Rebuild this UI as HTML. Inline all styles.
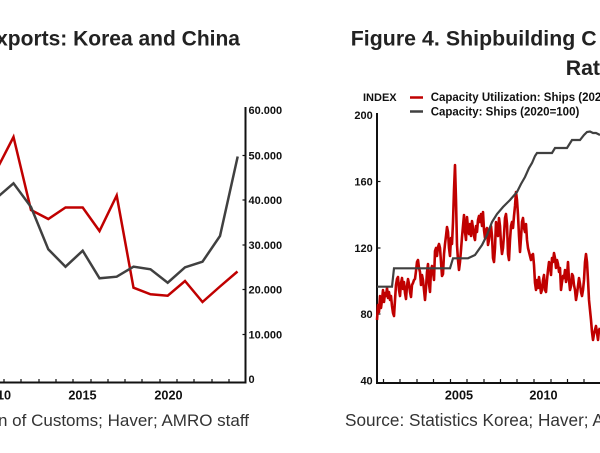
<!DOCTYPE html>
<html><head><meta charset="utf-8"><style>
html,body{margin:0;padding:0;background:#fff;}
svg{display:block;}
text{font-family:"Liberation Sans",Arial,sans-serif;}
</style></head><body>
<svg width="600" height="453" viewBox="0 0 600 453" xmlns="http://www.w3.org/2000/svg">
<rect width="600" height="453" fill="#fff"/>
<!-- Titles -->
<text x="240" y="45.5" font-size="21" font-weight="bold" fill="#222" text-anchor="end">Exports: Korea and China</text>
<text x="350.7" y="45.5" font-size="21.3" font-weight="bold" fill="#222" textLength="246" lengthAdjust="spacing">Figure 4. Shipbuilding C</text>
<text x="565.7" y="75" font-size="21.3" font-weight="bold" fill="#222">Rat</text>

<!-- LEFT CHART -->
<g stroke="#111" stroke-width="2" fill="none">
<line x1="245.5" y1="107" x2="245.5" y2="383.5"/>
<line x1="0" y1="382.5" x2="246.5" y2="382.5"/>
</g>
<g stroke="#111" stroke-width="1.2">
<line x1="4" y1="379" x2="4" y2="382"/><line x1="21" y1="379" x2="21" y2="382"/><line x1="39" y1="379" x2="39" y2="382"/><line x1="56" y1="379" x2="56" y2="382"/><line x1="73" y1="379" x2="73" y2="382"/><line x1="91" y1="379" x2="91" y2="382"/><line x1="108" y1="379" x2="108" y2="382"/><line x1="125" y1="379" x2="125" y2="382"/><line x1="142" y1="379" x2="142" y2="382"/><line x1="160" y1="379" x2="160" y2="382"/><line x1="177" y1="379" x2="177" y2="382"/><line x1="194" y1="379" x2="194" y2="382"/><line x1="212" y1="379" x2="212" y2="382"/><line x1="229" y1="379" x2="229" y2="382"/>
<line x1="242.5" y1="155.5" x2="245" y2="155.5"/><line x1="242.5" y1="200" x2="245" y2="200"/><line x1="242.5" y1="245" x2="245" y2="245"/><line x1="242.5" y1="289.5" x2="245" y2="289.5"/><line x1="242.5" y1="334.5" x2="245" y2="334.5"/>
</g>
<g font-size="11" font-weight="bold" fill="#111">
<text x="248.5" y="114">60.000</text>
<text x="248.5" y="159.5">50.000</text>
<text x="248.5" y="204">40.000</text>
<text x="248.5" y="249">30.000</text>
<text x="248.5" y="293.5">20.000</text>
<text x="248.5" y="338.5">10.000</text>
<text x="248.5" y="383">0</text>
</g>
<g font-size="12.7" font-weight="bold" fill="#111" text-anchor="middle">
<text x="-3" y="399.3">2010</text>
<text x="82.5" y="399.3">2015</text>
<text x="168.5" y="399.3">2020</text>
</g>
<polyline fill="none" stroke="#c00000" stroke-width="2.5" stroke-linejoin="miter" points="-3.5,170 13.5,137 31,210 48.3,219 65.5,207.5 82.7,207.5 99.5,231 116.7,195.5 133.5,287.7 150.5,294.3 167.7,295.7 185,281 202.5,302 220,286.5 237.5,271.5"/>
<polyline fill="none" stroke="#404040" stroke-width="2.5" points="-3.5,198 13.5,183.3 31,207 48.3,249.3 65.5,266.7 82.7,250.7 99.5,278.3 116.7,276.7 133.5,266.7 150.5,269.3 167.7,282.7 185,267.3 202.5,261.7 220,236 237.7,156.5"/>
<text x="249" y="426" font-size="17" fill="#333" text-anchor="end">Source: General Administration of Customs; Haver; AMRO staff</text>

<!-- RIGHT CHART -->
<text x="363" y="101" font-size="11" font-weight="bold" fill="#111">INDEX</text>
<line x1="410" y1="97.5" x2="423" y2="97.5" stroke="#c00000" stroke-width="2.5"/>
<line x1="410" y1="111.5" x2="423" y2="111.5" stroke="#404040" stroke-width="2.5"/>
<text x="430.7" y="101" font-size="11.5" font-weight="bold" fill="#111">Capacity Utilization: Ships (2020=100)</text>
<text x="430.7" y="115.5" font-size="11.5" font-weight="bold" fill="#111">Capacity: Ships (2020=100)</text>

<g stroke="#111" stroke-width="2" fill="none">
<line x1="377" y1="113" x2="377" y2="384"/>
<line x1="376" y1="383" x2="600" y2="383"/>
</g>
<g stroke="#111" stroke-width="1.2">
<line x1="383.5" y1="379" x2="383.5" y2="382"/><line x1="400" y1="379" x2="400" y2="382"/><line x1="417" y1="379" x2="417" y2="382"/><line x1="433.5" y1="379" x2="433.5" y2="382"/><line x1="450.5" y1="379" x2="450.5" y2="382"/><line x1="467" y1="379" x2="467" y2="382"/><line x1="484" y1="379" x2="484" y2="382"/><line x1="500.5" y1="379" x2="500.5" y2="382"/><line x1="517" y1="379" x2="517" y2="382"/><line x1="534" y1="379" x2="534" y2="382"/><line x1="551" y1="379" x2="551" y2="382"/><line x1="567.5" y1="379" x2="567.5" y2="382"/><line x1="584" y1="379" x2="584" y2="382"/>
<line x1="378" y1="181.5" x2="380.5" y2="181.5"/><line x1="378" y1="248" x2="380.5" y2="248"/><line x1="378" y1="314" x2="380.5" y2="314"/>
</g>
<g font-size="11" font-weight="bold" fill="#111" text-anchor="end">
<text x="372.7" y="119">200</text>
<text x="372.7" y="185.5">160</text>
<text x="372.7" y="252">120</text>
<text x="372.7" y="318">80</text>
<text x="372.7" y="384.5">40</text>
</g>
<g font-size="12.7" font-weight="bold" fill="#111" text-anchor="middle">
<text x="459" y="399.3">2005</text>
<text x="543.5" y="399.3">2010</text>
</g>
<polyline fill="none" stroke="#c00000" stroke-width="2.6" stroke-linejoin="round" points="377,320 378,305 379,312 380,296 381,308 382,300 383,290 384,302 385,293 386,296 387,288 388,298 389,292 390,300 391,296 392,306 393,313 394,316 395,300 396,285 397,279 398,277 399,290 400,296 401,283 402,278 403,289 404,282 405,293 406,299 407,286 408,279 409,284 410,292 411,297 412,285 413,283 414,280 415,279 416,271 417,262 418,260 419,268 420,272 421,285 422,275 423,280 424,290 425,300 426,288 427,272 428,264 429,284 430,292 431,270 432,266 433,272 434,280 435,251 436,248 437,256 438,247 439,244 440,248 441,262 442,276 443,274 444,254 445,244 446,236 447,227 448,232 449,248 450,256 451,238 452,244 453,222 454,190 455,165 456,200 457,245 458,260 459,270 460,262 461,250 462,237 463,226 464,215 465,232 466,240 467,217 468,228 469,234 470,224 471,236 472,221 473,228 474,236 475,240 476,226 477,232 478,220 479,216 480,222 481,214 482,226 483,212 484,230 485,238 486,230 487,228 488,245 489,240 490,232 491,226 492,236 493,258 494,262 495,248 496,222 497,232 498,236 499,218 500,226 501,244 502,254 503,248 504,235 505,218 506,214 507,224 508,254 509,260 510,240 511,226 512,222 513,228 514,216 515,206 516,192 517,200 518,215 519,236 520,252 521,238 522,222 523,218 524,228 525,232 526,224 527,240 528,248 529,252 530,256 531,260 532,255 533,254 534,265 535,283 536,290 537,280 538,288 539,277 540,285 541,293 542,290 543,280 544,275 545,290 546,292 547,280 548,270 549,262 550,266 551,275 552,258 553,262 554,253 555,258 556,268 557,260 558,264 559,272 560,268 561,290 562,282 563,276 564,278 565,270 566,282 567,276 568,262 569,280 570,290 571,286 572,274 573,276 574,285 575,290 576,300 577,294 578,286 579,278 580,284 581,292 582,296 583,290 584,280 585,262 586,254 587,262 588,280 589,300 590,310 591,320 592,332 593,340 594,334 595,330 596,326 597,333 598,340 599,330 600,328"/>
<polyline fill="none" stroke="#404040" stroke-width="2.2" points="377,286.7 392,286.7 394,268.3 450,268.3 453,258.3 468,258.3 475,255 482,245 487,235 492,222 497,214 503,207 510,200 517,192 521,184 525,177 529,168 532,163 535,156 537,153 552,153 555,148 567,148 572,140 580,140 584,135 587,132 590,131.5 593,133 596,133 600,135"/>
<text x="345" y="426" font-size="17.2" fill="#333">Source: Statistics Korea; Haver; Al</text>
</svg>
</body></html>
